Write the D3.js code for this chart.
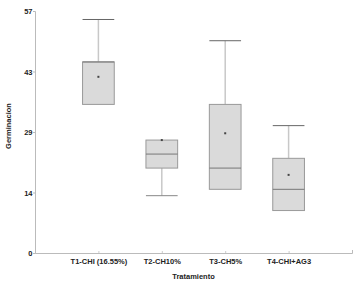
<!DOCTYPE html>
<html>
<head>
<meta charset="utf-8">
<script src="https://cdn.jsdelivr.net/npm/d3@7"></script>
<style>
   body { margin: 0; background: #fff; }
   text { font-family: "Liberation Sans", Arial, sans-serif; fill: #222; }
   .tick-label { font-size: 7.5px; font-weight: bold; }
   .axis-title { font-size: 7.5px; font-weight: bold; }
</style>
</head>
<body>
<div id="chart"></div>
<script>
const width = 359;
const height = 286;

// box plot values
const categories = ["T1-CHI (16.55%)", "T2-CH10%", "T3-CH5%", "T4-CHI+AG3"];
const minVals    = [35, 13.5, 15, 10];
const q1Vals     = [35, 20, 15, 10];
const medianVals = [45, 23.3, 20, 15];
const q3Vals     = [45, 26.6, 35, 22.3];
const maxVals    = [55, 26.6, 50, 30];
const meanVals   = [41.5, 26.6, 28.2, 18.4];
const yTicks     = [0, 14.25, 28.5, 42.75, 57];

const margin = { top: 11, right: 7, bottom: 33, left: 35 };

const svg = d3.select("#chart").append("svg")
   .attr("width", width)
   .attr("height", height);

svg.append("rect")
   .attr("width", width).attr("height", height)
   .style("fill", "#fff");

const x = d3.scalePoint()
   .domain(categories)
   .range([margin.left, width - margin.right])
   .padding(1);

const y = d3.scaleLinear()
   .domain([0, 57])
   .range([height - margin.bottom, margin.top]);

const boxW = x.step() * 0.5;

// axes
const yAxis = svg.append("g")
   .attr("transform", "translate(" + margin.left + ",0)")
   .call(d3.axisLeft(y).tickValues(yTicks).tickSize(2).tickFormat(d => Math.round(d)));
yAxis.select(".domain").attr("stroke", "#bbb");
yAxis.selectAll(".tick line").attr("stroke", "#bbb");
yAxis.selectAll(".tick text").attr("class", "tick-label").attr("x", -2.5).attr("dy", "0.35em");

const xAxis = svg.append("g")
   .attr("transform", "translate(0," + (height - margin.bottom) + ")")
   .call(d3.axisBottom(x).tickSize(-2).tickSizeOuter(-3));
xAxis.select(".domain").attr("stroke", "#bbb");
xAxis.selectAll(".tick line").attr("stroke", "#ccc");
xAxis.selectAll(".tick text").attr("class", "tick-label").attr("y", 6).attr("dy", "0.71em");

// axis titles
svg.append("text")
   .attr("class", "axis-title")
   .attr("x", (margin.left + width - margin.right) / 2)
   .attr("y", 279)
   .style("text-anchor", "middle")
   .text("Tratamiento");

svg.append("text")
   .attr("class", "axis-title")
   .attr("transform", "translate(11," + (y(28.5) - 6) + ") rotate(-90)")
   .style("text-anchor", "middle")
   .text("Germinacion");

const boxes = categories.map((c, i) => ({
   name: c, min: minVals[i], q1: q1Vals[i], median: medianVals[i],
   q3: q3Vals[i], max: maxVals[i], mean: meanVals[i]
}));

const g = svg.selectAll("g.box")
   .data(boxes)
   .enter()
   .append("g")
   .attr("class", "box");

// whisker stems
g.filter(d => d.max > d.q3).append("line")
   .attr("x1", d => x(d.name)).attr("x2", d => x(d.name))
   .attr("y1", d => y(d.max)).attr("y2", d => y(d.q3))
   .attr("stroke", "#c8c8c8").attr("stroke-width", 1.5);
g.filter(d => d.min < d.q1).append("line")
   .attr("x1", d => x(d.name)).attr("x2", d => x(d.name))
   .attr("y1", d => y(d.q1)).attr("y2", d => y(d.min))
   .attr("stroke", "#c8c8c8").attr("stroke-width", 1.5);

// caps
g.filter(d => d.max > d.q3).append("line")
   .attr("x1", d => x(d.name) - boxW / 2).attr("x2", d => x(d.name) + boxW / 2)
   .attr("y1", d => y(d.max)).attr("y2", d => y(d.max))
   .attr("stroke", "#666").attr("stroke-width", 1);
g.filter(d => d.min < d.q1).append("line")
   .attr("x1", d => x(d.name) - boxW / 2).attr("x2", d => x(d.name) + boxW / 2)
   .attr("y1", d => y(d.min)).attr("y2", d => y(d.min))
   .attr("stroke", "#888").attr("stroke-width", 1);

// boxes
g.append("rect")
   .attr("x", d => x(d.name) - boxW / 2)
   .attr("y", d => y(d.q3))
   .attr("width", boxW)
   .attr("height", d => y(d.q1) - y(d.q3))
   .style("fill", "#dadada")
   .style("stroke", "#999")
   .style("stroke-width", 1);

// medians
g.append("line")
   .attr("x1", d => x(d.name) - boxW / 2).attr("x2", d => x(d.name) + boxW / 2)
   .attr("y1", d => y(d.median)).attr("y2", d => y(d.median))
   .attr("stroke", "#777").attr("stroke-width", 1);

// means
g.append("rect")
   .attr("x", d => x(d.name) - 1)
   .attr("y", d => y(d.mean) - 1)
   .attr("width", 2).attr("height", 2)
   .style("fill", "#444");
</script>
</body>
</html>
